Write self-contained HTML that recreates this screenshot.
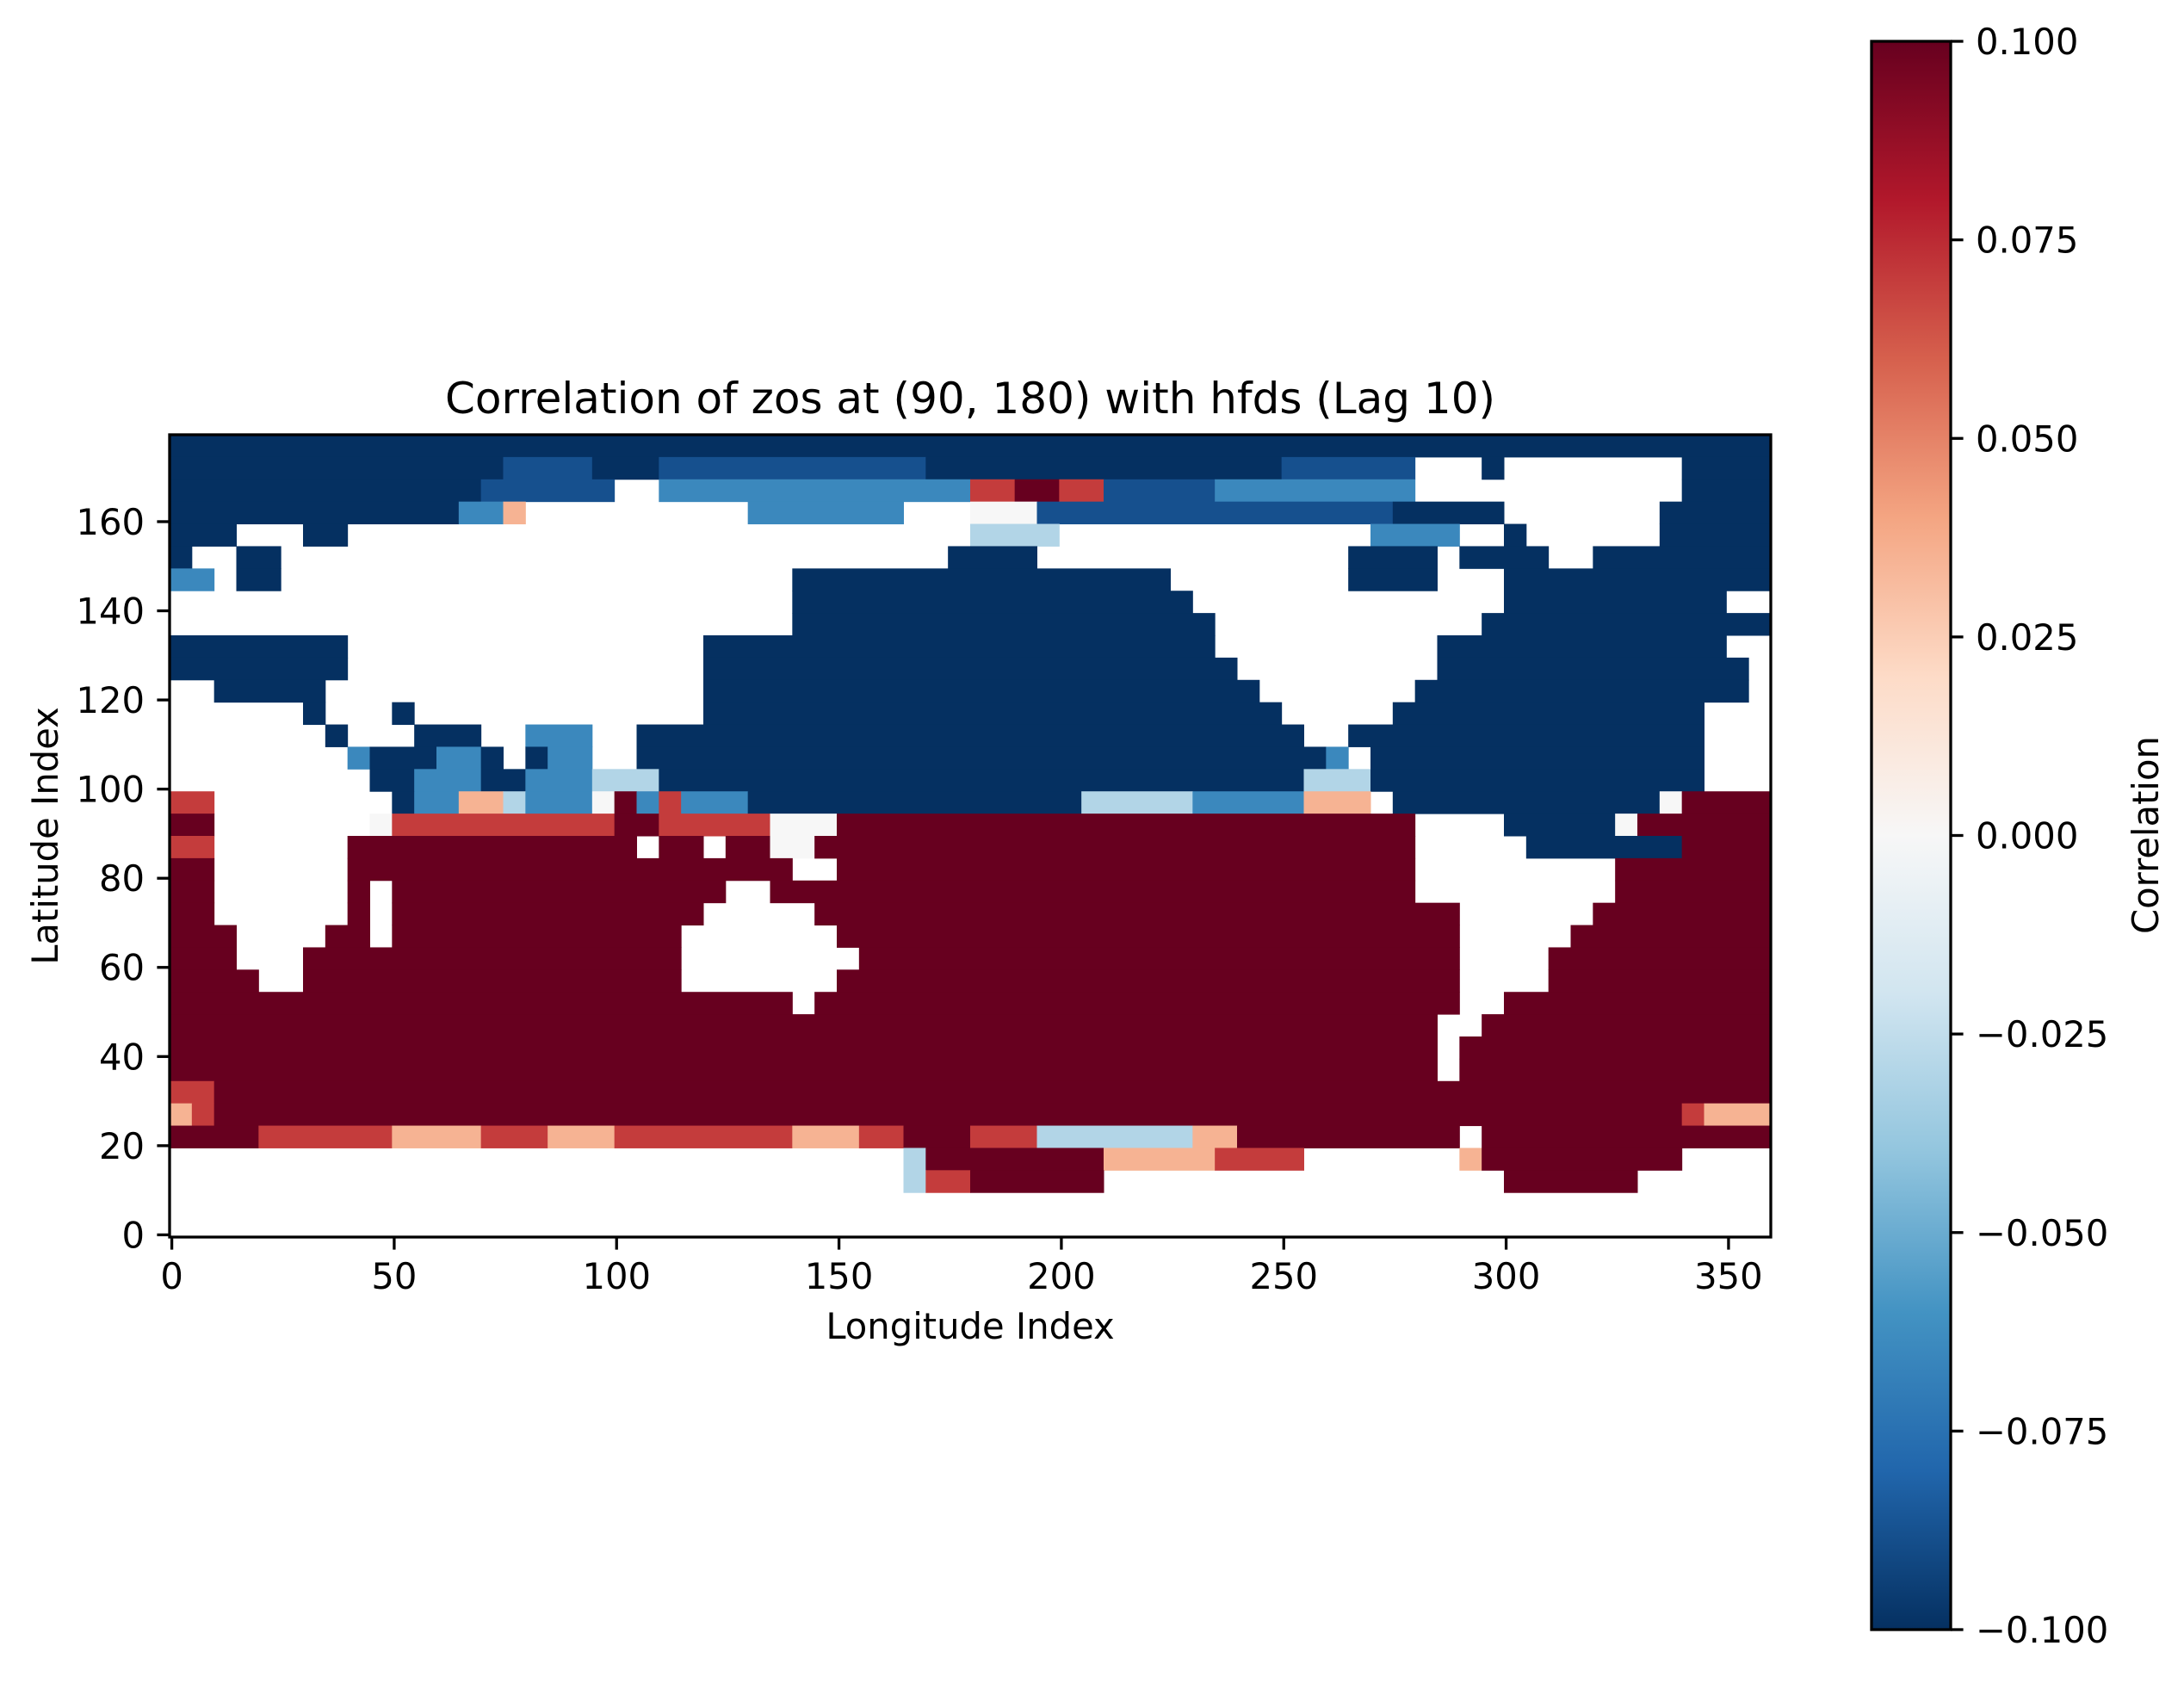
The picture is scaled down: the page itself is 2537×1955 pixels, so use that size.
<!DOCTYPE html>
<html><head><meta charset="utf-8"><style>
html,body{margin:0;padding:0;background:#fff;}
svg text{font-family:"DejaVu Sans","Liberation Sans",sans-serif;fill:#000;}
</style></head><body>
<svg id="chart" xmlns="http://www.w3.org/2000/svg" width="2537" height="1950" viewBox="0 0 2537 1950">
<rect x="0" y="0" width="2537" height="1950" fill="#fff"/>
<g id="heat"></g>
<rect x="197" y="505" width="1860" height="932" fill="none" stroke="#000" stroke-width="3.3"/>
<g id="xt"></g>
<g id="yt"></g>
<text x="1127" y="480" font-size="50" text-anchor="middle">Correlation of zos at (90, 180) with hfds (Lag 10)</text>
<text x="1127" y="1555" font-size="41.7" text-anchor="middle">Longitude Index</text>
<text transform="translate(67,971) rotate(-90)" font-size="41.7" text-anchor="middle">Latitude Index</text>
<defs><linearGradient id="cg" x1="0" y1="1" x2="0" y2="0"></linearGradient></defs>
<rect x="2174" y="48" width="92" height="1845" fill="url(#cg)" stroke="#000" stroke-width="3.3"/>
<g id="ct"></g>
<text transform="translate(2507,970) rotate(-90)" font-size="41.7" text-anchor="middle">Correlation</text>
</svg>
<script>
const xTicks = [0, 50, 100, 150, 200, 250, 300, 350];
const yTicks = [0, 20, 40, 60, 80, 100, 120, 140, 160];
const cbTicks = [0.1, 0.075, 0.05, 0.025, 0, -0.025, -0.05, -0.075, -0.1];
const cbLabels = ["0.100","0.075","0.050","0.025","0.000","\u22120.025","\u22120.050","\u22120.075","\u22120.100"];
const levelKeys = ["B","m","b","l","w","p","r","R"];
const levelVals = [-0.1, -0.088, -0.065, -0.03, 0, 0.035, 0.07, 0.1];
const cellSize = 5;
// rows from lat 180 down to 0 (each 5 index units), run-length encoded over 72 lon cells
const gridRows = [
"B72",
"B15 m4 B3 m12 B16 m6 .3 B1 .8 B4",
"B14 m6 .2 b14 r2 R2 r2 m5 b9 .12 B4",
"B13 b2 p1 .10 b7 .3 w3 m16 B5 .7 B5",
"B3 .3 B2 .28 l4 .14 b4 .2 B1 .6 B5",
"B1 .2 B2 .30 B1 B3 .14 B4 .1 B4 .2 B8",
"b2 .1 B2 .23 B17 .8 B4 .3 B12",
".28 B18 .14 B10 .2",
".28 B19 .12 B13",
"B8 .16 B23 .10 B13 .2",
"B8 .16 B24 .9 B14 .1",
".2 B5 .17 B25 .7 B15 .1",
".6 B1 .3 B1 .13 B26 .5 B14 .3",
".7 B1 .3 B3 .2 b3 .2 B30 .2 B16 .3",
".8 b1 B3 b2 B1 .1 B1 b2 .2 B31 b1 .1 B15 .3",
".9 B2 b3 B2 b3 l3 B29 l3 B15 .3",
"r2 .8 B1 b2 p2 l1 b3 w1 R1 b1 r1 b3 B15 l5 b5 p3 .1 B12 w1 R4",
"R2 .7 w1 r10 R2 r5 w3 R26 .4 B5 w1 R6",
"r2 .6 R13 .1 R2 .1 R2 w2 R27 .5 B7 R4",
"R2 .6 R20 .2 R26 .9 R7",
"R2 .6 R1 .1 R15 .2 R29 .9 R7",
"R2 .6 R1 .1 R14 .5 R29 .6 R8",
"R3 .4 R2 .1 R13 .7 R28 .5 R9",
"R3 .3 R17 .8 R27 .4 R10",
"R4 .2 R17 .7 R28 .4 R10",
"R28 .1 R29 .2 R12",
"R57 .2 R13",
"R57 .1 R14",
"R57 .1 R14",
"r2 R70",
"p1 r1 R66 r1 p3",
"R4 r6 p4 r3 p3 r8 p3 r2 R3 r3 l7 p2 R10 .1 R13",
".33 l1 R8 p5 r4 .7 p1 R9 .4",
".33 l1 r2 R6 .18 R6 .6",
".72",
".72"
];
const NS="http://www.w3.org/2000/svg";
const X0=197,X1=2057,Y0=505,Y1=1437;
function xs(v){return X0+(v+0.5)*(X1-X0)/360;}
function ys(v){return Y1-(v+0.5)*(Y1-Y0)/180;}
const stops=["#053061","#2166ac","#4393c3","#92c5de","#d1e5f0","#f7f7f7","#fddbc7","#f4a582","#d6604d","#b2182b","#67001f"];
function hex(h){return [1,3,5].map(i=>parseInt(h.substr(i,2),16));}
function cmap(v){let t=(v+0.1)/0.2;t=Math.max(0,Math.min(1,t));const p=t*10;const i=Math.min(9,Math.floor(p));const f=p-i;const a=hex(stops[i]),b=hex(stops[i+1]);return "rgb("+a.map((c,k)=>Math.round(c+(b[k]-c)*f)).join(",")+")";}
const heat=document.getElementById("heat");
gridRows.forEach((row,r)=>{
  let c=0;
  row.split(" ").forEach(tok=>{
    const ch=tok[0];const n=parseInt(tok.slice(1));
    const k=levelKeys.indexOf(ch);
    if(k>=0){
      const latTop=180-cellSize*r-0.5, latBot=180-cellSize*(r+1)-0.5;
      const lonL=c*cellSize-0.5, lonR=(c+n)*cellSize-0.5;
      const rect=document.createElementNS(NS,"rect");
      
      
      rect.setAttribute("x",xs(lonL));rect.setAttribute("y",ys(latTop));
      rect.setAttribute("width",xs(Math.min(lonR,359.5))-xs(lonL)+0.5);
      rect.setAttribute("height",ys(latBot)-ys(latTop)+0.5);
      rect.setAttribute("fill",cmap(levelVals[k]));
      heat.appendChild(rect);
    }
    c+=n;
  });
});
function line(g,x1,y1,x2,y2,name){const l=document.createElementNS(NS,"line");
  
  
  l.setAttribute("x1",x1);l.setAttribute("y1",y1);l.setAttribute("x2",x2);l.setAttribute("y2",y2);l.setAttribute("stroke","#000");l.setAttribute("stroke-width","3.3");g.appendChild(l);}
function text(g,x,y,s,anchor,name){const t=document.createElementNS(NS,"text");
  
  
  t.setAttribute("x",x);t.setAttribute("y",y);t.setAttribute("font-size","41.7");t.setAttribute("text-anchor",anchor);t.textContent=s;g.appendChild(t);}
const xt=document.getElementById("xt");
xTicks.forEach(v=>{const x=xs(v);line(xt,x,Y1,x,Y1+14.6,"x-tick");text(xt,x,1497,String(v),"middle","x-tick-label");});
const yt=document.getElementById("yt");
yTicks.forEach(v=>{const y=ys(v);line(yt,X0,y,X0-14.6,y,"y-tick");text(yt,168,y+15,String(v),"end","y-tick-label");});
const cg=document.getElementById("cg");
stops.forEach((s,i)=>{const st=document.createElementNS(NS,"stop");st.setAttribute("offset",(i/10));st.setAttribute("stop-color",s);cg.appendChild(st);});
const ct=document.getElementById("ct");
function cy(v){return 48+(0.1-v)/0.2*1845;}
cbTicks.forEach((v,i)=>{const y=cy(v);line(ct,2266,y,2280.6,y,"colorbar-tick");text(ct,2295,y+15,cbLabels[i],"start","colorbar-tick-label");});
</script>
</body></html>
